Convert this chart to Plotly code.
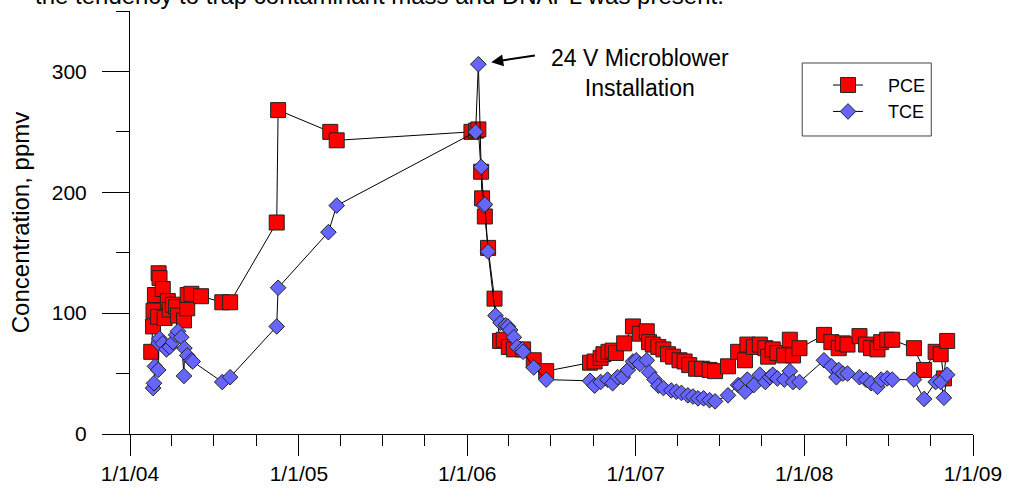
import plotly.graph_objects as go

# ---------------- data ----------------
pce_dates = [
    "2004-02-16", "2004-02-20", "2004-02-21", "2004-02-24", "2004-03-02", "2004-03-03",
    "2004-03-05", "2004-03-12", "2004-03-16", "2004-03-23", "2004-03-27", "2004-04-03",
    "2004-04-10", "2004-04-14", "2004-04-27", "2004-05-04", "2004-05-05", "2004-05-13",
    "2004-06-03", "2004-07-19", "2004-08-05", "2004-11-14", "2004-11-17", "2005-03-10",
    "2005-03-24", "2006-01-10", "2006-01-20", "2006-01-25", "2006-01-31", "2006-02-02",
    "2006-02-08", "2006-02-15", "2006-03-01", "2006-03-13", "2006-03-21", "2006-04-01",
    "2006-04-12", "2006-05-02", "2006-05-25", "2006-06-21", "2006-09-24", "2006-10-04",
    "2006-10-17", "2006-10-23", "2006-11-03", "2006-11-12", "2006-11-19", "2006-12-07",
    "2006-12-26", "2007-01-10", "2007-01-25", "2007-01-30", "2007-02-07", "2007-02-19",
    "2007-03-02", "2007-03-12", "2007-03-23", "2007-04-06", "2007-04-17", "2007-04-27",
    "2007-05-12", "2007-05-25", "2007-06-10", "2007-06-22", "2007-07-20", "2007-08-11",
    "2007-08-26", "2007-08-31", "2007-09-14", "2007-09-27", "2007-10-09", "2007-10-15",
    "2007-10-25", "2007-11-04", "2007-11-19", "2007-12-01", "2007-12-08", "2007-12-22",
    "2008-02-13", "2008-02-29", "2008-03-16", "2008-03-25", "2008-04-04", "2008-04-30",
    "2008-05-14", "2008-05-25", "2008-06-08", "2008-06-16", "2008-06-29", "2008-07-10",
    "2008-08-26", "2008-09-17", "2008-10-12", "2008-10-23", "2008-10-30", "2008-11-06",
]
pce_values = [
    68, 89, 102, 115, 97, 133,
    129, 120, 96, 110, 103, 107,
    105, 98, 94, 104, 115, 116,
    114, 109, 109, 175, 268, 250,
    243, 250, 251, 252, 217, 195,
    180, 154, 112, 77, 78, 72,
    70, 70, 61, 52, 59, 60,
    63, 66, 68, 69, 67, 75,
    89, 83, 85, 76, 74, 72,
    70, 66, 64, 61, 60, 57,
    54, 54, 53, 52, 56, 68,
    61, 74, 72, 74, 71, 64,
    70, 67, 65, 78, 65, 71,
    82, 76, 71, 75, 74, 81,
    74, 71, 70, 76, 78, 78,
    71, 53, 68, 66, 46, 77,
]

tce_dates = [
    "2004-02-20", "2004-02-22", "2004-02-24", "2004-03-02", "2004-03-03", "2004-03-05",
    "2004-03-12", "2004-03-20", "2004-03-27", "2004-04-03", "2004-04-10", "2004-04-14",
    "2004-04-21", "2004-04-27", "2004-04-28", "2004-05-04", "2004-05-13", "2004-05-16",
    "2004-07-19", "2004-08-05", "2004-11-14", "2004-11-17", "2005-03-06", "2005-03-24",
    "2006-01-19", "2006-01-25", "2006-01-31", "2006-02-06", "2006-02-08", "2006-02-15",
    "2006-03-03", "2006-03-14", "2006-03-25", "2006-03-30", "2006-04-04", "2006-04-12",
    "2006-04-19", "2006-04-30", "2006-05-02", "2006-05-25", "2006-06-21", "2006-09-24",
    "2006-10-04", "2006-10-17", "2006-11-01", "2006-11-12", "2006-11-23", "2006-12-04",
    "2006-12-15", "2006-12-26", "2007-01-02", "2007-01-10", "2007-01-25", "2007-01-30",
    "2007-02-11", "2007-02-19", "2007-03-02", "2007-03-19", "2007-03-30", "2007-04-10",
    "2007-04-24", "2007-05-05", "2007-05-16", "2007-05-28", "2007-06-10", "2007-06-22",
    "2007-07-20", "2007-08-11", "2007-08-15", "2007-08-26", "2007-08-31", "2007-09-14",
    "2007-09-27", "2007-10-09", "2007-10-19", "2007-10-25", "2007-11-04", "2007-11-19",
    "2007-12-01", "2007-12-08", "2007-12-22", "2008-02-13", "2008-02-29", "2008-03-11",
    "2008-03-16", "2008-03-25", "2008-04-04", "2008-04-30", "2008-05-14", "2008-05-25",
    "2008-06-08", "2008-06-16", "2008-06-29", "2008-07-10", "2008-08-26", "2008-09-17",
    "2008-10-12", "2008-10-23", "2008-10-30", "2008-11-06",
]
tce_values = [
    38, 42, 56, 53, 75, 79,
    75, 70, 72, 76, 82, 85,
    80, 48, 71, 65, 61, 60,
    43, 47, 89, 121, 167, 189,
    250, 306, 221, 189, 190, 151,
    98, 92, 90, 89, 86, 80,
    72, 70, 68, 55, 45, 44,
    40, 43, 45, 42, 47, 47,
    53, 60, 61, 58, 61, 51,
    45, 40, 38, 36, 35, 34,
    32, 31, 29.5, 29.5, 28, 27,
    32, 40.5, 40, 35, 45, 40.5,
    49, 43, 47, 49, 46, 45,
    52, 43, 43, 61, 56, 47,
    53, 50, 50, 47, 45, 42,
    39, 45, 46, 45, 45, 29,
    43, 43, 30, 49,
]

y_tick_vals = [0, 100, 200, 300]
x_tick_format = "%-m/%-d/%y"
top_text = "the tendency to trap contaminant mass and DNAPL was present."
note_text = "24 V Microblower<br>Installation"
series_names = ["PCE", "TCE"]

FONT = "Arial, 'Liberation Sans', sans-serif"
PAD = "\u00a0" * 4

fig = go.Figure()
fig.add_trace(go.Scatter(
    x=pce_dates, y=pce_values, name=PAD + series_names[0], mode="lines+markers",
    line=dict(color="black", width=1),
    marker=dict(symbol="square", size=15, color="#FF0000",
                line=dict(color="#222222", width=1)),
))
fig.add_trace(go.Scatter(
    x=tce_dates, y=tce_values, name=PAD + series_names[1], mode="lines+markers",
    line=dict(color="black", width=1),
    marker=dict(symbol="diamond", size=12, color="#6666FF",
                line=dict(color="#222222", width=1)),
))

peak_i = tce_values.index(max(tce_values))
fig.add_annotation(
    x=tce_dates[peak_i], y=tce_values[peak_i], xref="x", yref="y",
    text="", showarrow=True, ax=58, ay=-9, axref="pixel", ayref="pixel",
    arrowhead=2, arrowsize=1.2, arrowwidth=2, arrowcolor="black", standoff=13,
)
fig.add_annotation(
    x=0.6054, y=0.8534, xref="paper", yref="paper", xanchor="center", yanchor="middle",
    text=note_text, showarrow=False, align="center",
    font=dict(family=FONT, size=23, color="black"),
)
fig.add_annotation(
    x=-0.1154, y=1.0, xref="paper", yref="paper", xanchor="left", yanchor="bottom",
    text=top_text, showarrow=False,
    font=dict(family=FONT, size=24, color="black"),
)

# legend frame (paper coords derived from plot-area geometry)
fig.add_shape(type="rect", xref="paper", yref="paper",
              x0=0.7974, x1=0.9505, y0=0.7045, y1=0.8771,
              line=dict(color="#444444", width=1), fillcolor="white", layer="below")

fig.update_layout(
    width=1013, height=499,
    margin=dict(l=130, r=34, t=11, b=65),
    paper_bgcolor="white", plot_bgcolor="white",
    font=dict(family=FONT, color="black"),
    showlegend=True,
    legend=dict(
        x=0.828, y=0.868, xanchor="left", yanchor="top",
        bgcolor="rgba(0,0,0,0)", borderwidth=0,
        font=dict(family=FONT, size=18, color="black"),
    ),
    xaxis=dict(
        type="date", range=["2004-01-01", "2009-01-01"],
        tick0="2004-01-01", dtick="M12", tickformat=x_tick_format,
        ticks="outside", ticklen=21, tickwidth=1, tickcolor="black",
        minor=dict(dtick="M3", ticks="outside", ticklen=11, tickcolor="black", tickwidth=1),
        showline=True, linecolor="black", linewidth=1,
        showgrid=False, zeroline=False,
        tickfont=dict(family=FONT, size=21, color="black"),
    ),
    yaxis=dict(
        range=[0, 350], tickvals=y_tick_vals,
        ticks="outside", ticklen=27, tickwidth=1, tickcolor="black",
        minor=dict(dtick=50, tick0=0, ticks="outside", ticklen=13, tickcolor="black", tickwidth=1),
        showline=True, linecolor="black", linewidth=1,
        showgrid=False, zeroline=False, ticklabelstandoff=11,
        tickfont=dict(family=FONT, size=21, color="black"),
        title=dict(text="Concentration, ppmv", font=dict(family=FONT, size=24, color="black"), standoff=15),
    ),
)

fig.write_html("out.html")
